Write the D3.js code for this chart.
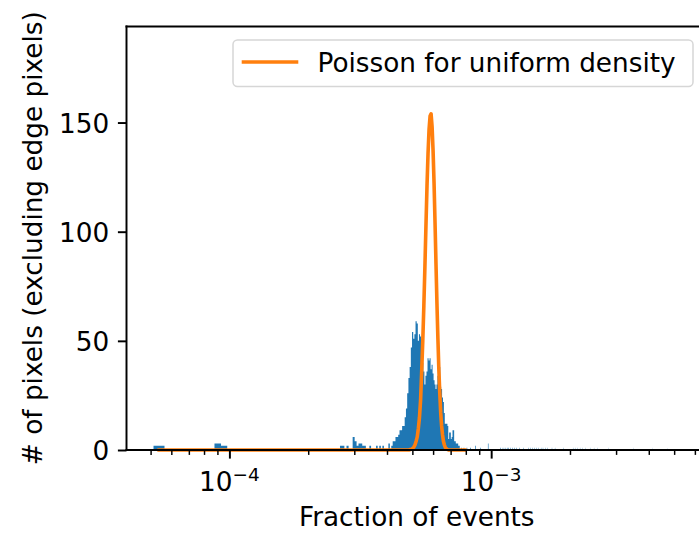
<!DOCTYPE html>
<html><head><meta charset="utf-8">
<script src="https://cdn.jsdelivr.net/npm/d3@7"></script>
<style>
body{margin:0;background:#fff}
svg{display:block}
text{font-family:"DejaVu Sans",sans-serif;fill:#000}
</style>
</head><body>
<svg id="chart" width="699" height="533"></svg>
<script>
// ---- histogram bins (linear bins, fraction of events) ----
const binLo = 5.13e-5;
const binStep = 5.2e-6;
// counts for bins 0..136
const denseCounts = [
  2,0,0,0,0,0,0,3,2,0,
  0,0,0,0,0,0,0,0,0,0,
  0,0,0,0,0,0,0,0,0,0,
  0,0,0,0,0,0,0,0,0,0,
  0,2,2,0,2,0,0,6,4,2,
  3,3,2,2,0,0,2,0,0,0,
  2,0,2,0,2,0,0,0,3,0,
  2,4,4,6,6,7,9,9,11,11,
  15,19,26,33,38,47,54,51,53,59,
  58,50,53,52,45,40,36,30,34,36,
  42,41,42,37,39,35,32,30,28,30,
  34,40,38,29,28,24,22,17,12,12,
  12,11,5,8,8,5,6,9,9,4,
  4,3,3,3,2,2,0
];
// sparse tail bins
const tailBins = [138,141,145,150,157,165,177,198,203,207,211,214,218,222,226,230,236,245,256,262,266,271,276,281,288,293,299,305,318,327,352,385,392,400,410,420,430,449,465,478,528,660,782,893];
const tailCounts = [1,1,1,1,2,1,3,1,1,1,1,1,1,1,1,1,1,1,1,1,1,1,1,1,1,1,1,1,1,1,1,1,1,1,1,1,1,1,1,1,1,1,1,1];

// ---- Poisson curve (evaluated at bin centres) ----
const poissonFirstBin = 0;
const poissonLastBin = 142;
const poissonPeakStart = 84;
const poissonPeakValues = [0.2,0.3,0.7,1.3,2.3,4,6,10,15,23,36,50,66,84,103,121,136,147,153,154,148,137,122,104,85,67,51,37,26,17,11,7,4,2.4,1.3,0.7,0.35,0.15];

// ---- axes ----
const xDomain = [4.045e-5, 6.675e-3];
const yDomain = [0, 194];
const yTicks = [0, 50, 100, 150];
const xMajorTicks = [1e-4, 1e-3];
const xMajorExponents = ["\u22124", "\u22123"];
const xMinorTicks = [5e-5,6e-5,7e-5,8e-5,9e-5,2e-4,3e-4,4e-4,5e-4,6e-4,7e-4,8e-4,9e-4,2e-3,3e-3,4e-3,5e-3,6e-3];
const xLabel = "Fraction of events";
const yLabel = "# of pixels (excluding edge pixels)";
const legendLabel = "Poisson for uniform density";

// ---- layout ----
const L = 126.5, R = 707, T = 26.5, B = 450;
const FS = 26.3;
const blue = "#1f77b4", orange = "#ff7f0e";

const svg = d3.select("#chart");
svg.append("rect").attr("width",699).attr("height",533).attr("fill","#fff");

const x = d3.scaleLog().domain(xDomain).range([L, R]);
const y = d3.scaleLinear().domain(yDomain).range([B, T]);

// build bar records
const bars = [];
denseCounts.forEach((c, k) => { if (c > 0) bars.push({k, c}); });
tailBins.forEach((k, i) => bars.push({k, c: tailCounts[i]}));
const edge = k => binLo + k * binStep;

// bars drawn as a single path (avoids seams between adjacent bars)
let d = "";
bars.forEach(b => {
  const x0 = x(edge(b.k)), x1 = x(edge(b.k + 1));
  const y0 = y(b.c), y1 = y(0);
  d += `M${x0},${y1}L${x0},${y0}L${x1},${y0}L${x1},${y1}Z`;
});
svg.append("path").attr("class","bars").attr("d", d).attr("fill", blue);

// Poisson line
const pts = d3.range(poissonFirstBin, poissonLastBin + 1).map(k => {
  const i = k - poissonPeakStart;
  const v = (i >= 0 && i < poissonPeakValues.length) ? poissonPeakValues[i] : 0;
  return [edge(k) + binStep / 2, v];
});
svg.append("path")
  .datum(pts)
  .attr("d", d3.line().x(p => x(p[0])).y(p => y(p[1])))
  .attr("fill","none").attr("stroke", orange).attr("stroke-width", 3.6)
  .attr("stroke-linejoin","round").attr("stroke-linecap","square");

// axes
const xMajor = svg.append("g").attr("transform",`translate(0,${B})`)
  .call(d3.axisBottom(x).tickValues(xMajorTicks).tickSize(8.6).tickFormat(""));
const xMinor = svg.append("g").attr("transform",`translate(0,${B})`)
  .call(d3.axisBottom(x).tickValues(xMinorTicks).tickSize(4.9).tickFormat(""));
const yAx = svg.append("g").attr("transform",`translate(${L},0)`)
  .call(d3.axisLeft(y).tickValues(yTicks).tickSize(8.6).tickPadding(8.6).tickFormat(d3.format("d")));
[xMajor, xMinor, yAx].forEach(g => g.select(".domain").remove());
xMajor.selectAll(".tick line").attr("stroke","#000").attr("stroke-width",1.95);
xMinor.selectAll(".tick line").attr("stroke","#000").attr("stroke-width",1.47);
yAx.selectAll(".tick line").attr("stroke","#000").attr("stroke-width",1.95);
yAx.selectAll(".tick text").attr("font-size", FS).attr("font-family","DejaVu Sans").attr("fill","#000").attr("dy","0.36em");

// x major labels with superscript
xMajorTicks.forEach((t, i) => {
  const tx = svg.append("text").attr("x", x(t)).attr("y", 491)
    .attr("text-anchor","middle").attr("font-size", FS);
  tx.append("tspan").text("10");
  tx.append("tspan").attr("font-size", FS * 0.7).attr("dy", -10.5).text(xMajorExponents[i]);
});

// spines
const sp = svg.append("g").attr("stroke","#000").attr("stroke-width",1.95).attr("fill","none")
  .attr("stroke-linecap","square");
sp.append("line").attr("x1",L).attr("x2",L).attr("y1",T).attr("y2",B);
sp.append("line").attr("x1",L).attr("x2",R).attr("y1",B).attr("y2",B);
sp.append("line").attr("x1",L).attr("x2",R).attr("y1",T).attr("y2",T);
sp.append("line").attr("x1",R).attr("x2",R).attr("y1",T).attr("y2",B);

// axis labels
svg.append("text").attr("x",(L+R)/2).attr("y",526).attr("text-anchor","middle")
  .attr("font-size",FS).text(xLabel);
svg.append("text").attr("transform",`translate(42,${(T+B)/2}) rotate(-90)`)
  .attr("text-anchor","middle").attr("font-size",FS).text(yLabel);

// legend
const lg = svg.append("g");
lg.append("rect").attr("x",233).attr("y",40).attr("width",460).attr("height",46.5)
  .attr("rx",4.5).attr("fill","#fff").attr("fill-opacity",0.8)
  .attr("stroke","#cccccc").attr("stroke-opacity",0.8).attr("stroke-width",1.5);
lg.append("line").attr("x1",243.5).attr("x2",296.5).attr("y1",62).attr("y2",62)
  .attr("stroke",orange).attr("stroke-width",3.6).attr("stroke-linecap","square");
lg.append("text").attr("x",317.5).attr("y",72).attr("font-size",FS).text(legendLabel);
</script>
</body></html>
